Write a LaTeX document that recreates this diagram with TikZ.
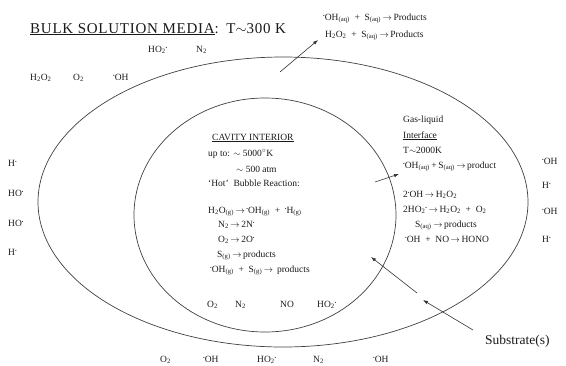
\documentclass[tikz,border=0pt]{standalone}
\usepackage{fontspec}
\setmainfont{Liberation Serif}
\usetikzlibrary{arrows.meta}
\newcommand{\rad}{\raisebox{0.6ex}{\scalebox{0.5}{\textbullet}}}
\newcommand{\sbs}[1]{\textsubscript{#1}}
\newcommand{\yields}{\,$\rightarrow$\,}
\def\outercx{283}
\def\outercy{202}
\def\outerrx{245}
\def\outerry{145}
\def\innercx{265}
\def\innercy{215}
\def\innerrx{131}
\def\innerry{117}
\tikzset{
  species/.style={inner sep=0pt, anchor=base west, text=black!90,
    font=\fontsize{9.5}{11}\selectfont},
  bigtext/.style={inner sep=0pt, anchor=base west, text=black!90,
    font=\fontsize{13.5}{16}\selectfont},
  shell/.style={draw=black!75, line width=0.7pt},
  flow/.style={-{Latex[length=5pt,width=3.5pt]}, line width=0.6pt, black!80}
}
\begin{document}
\begin{tikzpicture}[x=1pt, y=-1pt]
  \useasboundingbox (0,0) rectangle (566,365);
  % the two shells
  \draw[shell] (\outercx,\outercy) ellipse [x radius=\outerrx, y radius=\outerry];
  \draw[shell] (\innercx,\innercy) ellipse [x radius=\innerrx, y radius=\innerry];

  % bulk solution
  \node[bigtext, font=\fontsize{15}{17}\selectfont\addfontfeature{LetterSpace=5}] (bulk) at (30,33)
    {\underline{BULK SOLUTION MEDIA}:\enspace T$\sim$300 K};
  \node[species] (bho2) at (148,52) {HO\sbs{2}\rad};
  \node[species] (bn2) at (196,52) {N\sbs{2}};
  \node[species] (bh2o2) at (30,80) {H\sbs{2}O\sbs{2}};
  \node[species] (bo2) at (73,80) {O\sbs{2}};
  \node[species] (boh) at (113,80) {\rad OH};
  \node[species] (aq1) at (323,20) {\rad OH\sbs{(aq)}\enspace+\enspace S\sbs{(aq)}\yields Products};
  \node[species] (aq2) at (325,37) {H\sbs{2}O\sbs{2}\enspace+\enspace S\sbs{(aq)}\yields Products};
  \node[species] (lh1) at (8,166) {H\rad};
  \node[species] (lho1) at (8,196) {HO\rad};
  \node[species] (lho2) at (8,226) {HO\rad};
  \node[species] (lh2) at (8,255) {H\rad};
  \node[species] (roh1) at (542,164) {\rad OH};
  \node[species] (rh1) at (542,188) {H\rad};
  \node[species] (roh2) at (542,214) {\rad OH};
  \node[species] (rh2) at (542,242) {H\rad};
  \node[species] (do2) at (160,362) {O\sbs{2}};
  \node[species] (doh1) at (203,362) {\rad OH};
  \node[species] (dho2) at (257,362) {HO\sbs{2}\rad};
  \node[species] (dn2) at (313,362) {N\sbs{2}};
  \node[species] (doh2) at (373,362) {\rad OH};

  % cavity interior
  \node[species] (cav) at (212,140) {\underline{CAVITY INTERIOR}};
  \node[species] (cav1) at (208,156) {up to: $\sim$ 5000$^{\circ}$K};
  \node[species] (cav2) at (236,172) {$\sim$ 500 atm};
  \node[species] (cav3) at (208,186) {`Hot'\enspace Bubble Reaction:};
  \node[species] (cav4) at (208,213) {H\sbs{2}O\sbs{(g)}\yields\rad OH\sbs{(g)}\enspace+\enspace\rad H\sbs{(g)}};
  \node[species] (cav5) at (218,227) {N\sbs{2}\yields 2N\rad};
  \node[species] (cav6) at (218,242) {O\sbs{2}\yields 2O\rad};
  \node[species] (cav7) at (217,257) {S\sbs{(g)}\yields products};
  \node[species] (cav8) at (210,272) {\rad OH\sbs{(g)}\enspace+\enspace S\sbs{(g)}\yields\ products};
  \node[species] (co2) at (207,307) {O\sbs{2}};
  \node[species] (cn2) at (235,307) {N\sbs{2}};
  \node[species] (cno) at (280,307) {NO};
  \node[species] (cho2) at (317,307) {HO\sbs{2}\rad};

  % interface
  \node[species] (gl1) at (403,122) {Gas-liquid};
  \node[species] (gl2) at (403,138) {\underline{Interface}};
  \node[species] (gl3) at (403,153) {T$\sim$2000K};
  \node[species] (gl4) at (403,168) {\rad OH\sbs{(aq)}\,+\,S\sbs{(aq)}\yields product};
  \node[species] (gl5) at (403,197) {2\rad OH\yields H\sbs{2}O\sbs{2}};
  \node[species] (gl6) at (403,212) {2HO\sbs{2}\rad\yields H\sbs{2}O\sbs{2}\enspace+\enspace O\sbs{2}};
  \node[species] (gl7) at (415,227) {S\sbs{(aq)}\yields products};
  \node[species] (gl8) at (405,242) {\rad OH\enspace+\enspace NO\yields HONO};

  \node[bigtext] (subs) at (485,344) {Substrate(s)};

  % arrows
  \coordinate (t1) at (280,72);
  \coordinate (h1) at (318,40);
  \coordinate (t2) at (375,182);
  \coordinate (h2) at (399,174);
  \coordinate (t3) at (417,293);
  \coordinate (h3) at (371,257);
  \coordinate (t4) at (473,330);
  \coordinate (h4) at (423,300);
  \draw[flow] (t1) -- (h1);
  \draw[flow] (t2) -- (h2);
  \draw[flow] (t3) -- (h3);
  \draw[flow] (t4) -- (h4);
\end{tikzpicture}
\end{document}
